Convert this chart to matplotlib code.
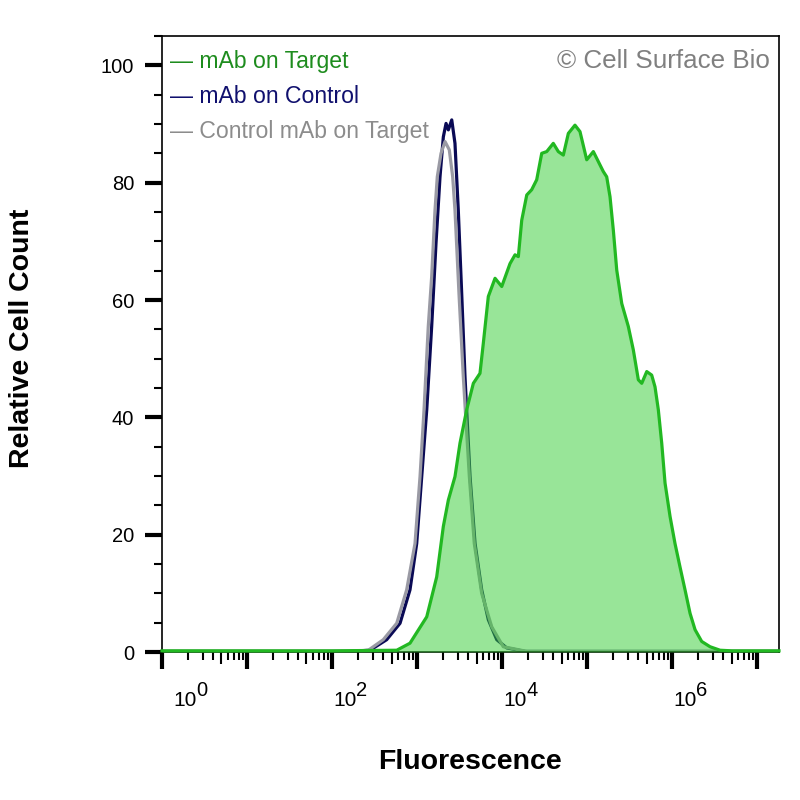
# -*- coding:utf-8 -*-

# flow cytometry histogram overlay
import numpy as np
import matplotlib
matplotlib.use('Agg')
import matplotlib.pyplot as plt
from matplotlib.ticker import FixedLocator, NullFormatter, NullLocator

plt.rcParams['font.family'] = ['Liberation Sans', 'DejaVu Sans']

# log10(fluorescence) and relative cell count
target_log = [0.0, 2.0, 2.76, 2.916, 3.113, 3.23, 3.308, 3.367, 3.445, 3.504,
              3.583, 3.661, 3.739, 3.778, 3.837, 3.916, 3.995, 4.092, 4.151, 4.19,
              4.23, 4.289, 4.347, 4.406, 4.465, 4.524, 4.601, 4.66, 4.719, 4.778,
              4.856, 4.915, 4.994, 5.072, 5.189, 5.229, 5.268, 5.307, 5.347, 5.406,
              5.483, 5.542, 5.601, 5.641, 5.70, 5.758, 5.797, 5.836, 5.876, 5.915,
              5.974, 6.032, 6.091, 6.15, 6.209, 6.268, 6.346, 6.444, 6.562, 6.7,
              7.255]
target_cnt = [0.2, 0.2, 0.3, 1.5, 6.0, 12.8, 21.4, 25.9, 29.9, 35.6,
              41.3, 45.8, 47.5, 52.6, 60.6, 63.7, 62.3, 66.2, 67.7, 67.4,
              73.6, 77.9, 78.8, 80.5, 85.0, 85.3, 86.7, 85.3, 84.7, 88.4,
              89.8, 88.7, 83.9, 85.3, 81.9, 81.0, 77.6, 71.9, 65.1, 59.4,
              55.5, 51.5, 46.4, 45.8, 47.8, 47.2, 45.2, 41.3, 35.6, 28.8,
              23.1, 18.5, 14.5, 10.6, 6.6, 3.8, 1.8, 0.9, 0.3, 0.2,
              0.2]

control_log = [0.0, 2.2, 2.446, 2.642, 2.799, 2.916, 2.995, 3.054, 3.113, 3.171,
               3.222, 3.269, 3.308, 3.34, 3.367, 3.407, 3.445, 3.484, 3.524, 3.563,
               3.622, 3.681, 3.759, 3.837, 3.936, 4.053, 4.269, 7.255]
control_cnt = [0.1, 0.1, 0.3, 2.1, 4.9, 10.6, 18.5, 29.9, 41.3, 55.5,
               69.7, 81.0, 87.8, 90.1, 89.0, 90.7, 86.7, 75.3, 61.1, 46.9,
               29.9, 18.5, 10.6, 5.5, 2.1, 0.7, 0.1, 0.1]

isotype_log = [0.0, 2.2, 2.426, 2.602, 2.76, 2.877, 2.975, 3.034, 3.081, 3.131,
               3.171, 3.21, 3.237, 3.281, 3.328, 3.378, 3.418, 3.445, 3.492, 3.543,
               3.614, 3.672, 3.759, 3.877, 4.013, 4.292, 7.255]
isotype_cnt = [0.1, 0.1, 0.3, 2.1, 4.9, 10.6, 18.5, 29.9, 41.3, 55.5,
               64.0, 75.3, 81.0, 85.0, 87.0, 85.6, 81.0, 75.3, 61.1, 46.9,
               29.9, 18.5, 10.0, 4.3, 0.9, 0.1, 0.1]

legend_labels = ['mAb on Target', 'mAb on Control', 'Control mAb on Target']
legend_colors = ['#1e8c1e', '#10106e', '#8c8c8c']
decade_labels = [0, 2, 4, 6]

fig = plt.figure(figsize=(8, 8), dpi=100)
ax = fig.add_axes([0.2025, 0.185, 0.77125, 0.77])

x_t = 10 ** np.array(target_log)
x_c = 10 ** np.array(control_log)
x_i = 10 ** np.array(isotype_log)

ax.plot(x_c, control_cnt, color='#0a0a55', lw=2.3, zorder=2)
ax.plot(x_i, isotype_cnt, color='#9a9aa4', lw=2.3, zorder=2.1)
ax.fill_between(x_t, 0, target_cnt, color='#32cd32', alpha=0.5, lw=0, zorder=3)
ax.plot(x_t, target_cnt, color='#22b822', lw=2.3, zorder=4, clip_on=False)

ax.set_xscale('log')
ax.set_xlim(1, 10 ** 7.255)
ax.set_ylim(0, 105)

# y ticks
ax.set_yticks([0, 20, 40, 60, 80, 100])
ax.yaxis.set_minor_locator(FixedLocator([5, 10, 15, 25, 30, 35, 45, 50, 55,
                                         65, 70, 75, 85, 90, 95, 105]))
ax.tick_params(axis='y', which='major', length=12, width=3, pad=8, labelsize=14.5)
ax.tick_params(axis='y', which='minor', length=5.5, width=1.5)

# x ticks: decades, minor 2-9, the 5s a bit longer
ax.xaxis.set_major_locator(FixedLocator([10.0 ** k for k in range(8)]))
ax.xaxis.set_major_formatter(NullFormatter())
minors = [m * 10.0 ** k for k in range(7) for m in (2, 3, 4, 6, 7, 8, 9)]
ax.xaxis.set_minor_locator(FixedLocator(minors))
ax.xaxis.set_minor_formatter(NullFormatter())
ax.tick_params(axis='x', which='major', length=12, width=3)
ax.tick_params(axis='x', which='minor', length=5.5, width=1.5)

sec = ax.secondary_xaxis('bottom')
sec.set_xticks([5 * 10.0 ** k for k in range(7)])
sec.xaxis.set_minor_locator(NullLocator())
sec.tick_params(length=8.5, width=1.5, labelbottom=False)
sec.spines['bottom'].set_visible(False)

for s in ax.spines.values():
    s.set_linewidth(1.2)

# decade labels, left-aligned at the tick like the cytometry software does
xtr = ax.get_xaxis_transform()
for k in decade_labels:
    dx = 11 if k == 0 else 1
    ax.annotate('10', xy=(10.0 ** k, 0), xycoords=xtr,
                xytext=(dx, -54), textcoords='offset pixels',
                ha='left', va='baseline', fontsize=15)
    ax.annotate(str(k), xy=(10.0 ** k, 0), xycoords=xtr,
                xytext=(dx + 23, -44.5), textcoords='offset pixels',
                ha='left', va='baseline', fontsize=14.5)

# legend as coloured text lines
for i, (lab, col) in enumerate(zip(legend_labels, legend_colors)):
    ax.text(0.013, 0.958 - i * 0.0568, '\u2014 ' + lab, color=col,
            fontsize=16.6, ha='left', va='center', transform=ax.transAxes)

ax.text(0.985, 0.96, '\u00a9 Cell Surface Bio', color='#808080', fontsize=18.7,
        ha='right', va='center', transform=ax.transAxes)

ax.set_xlabel('Fluorescence', fontsize=20.5, fontweight='bold', va='center')
ax.xaxis.set_label_coords(0.5, -0.179)
ax.set_ylabel('Relative Cell Count', fontsize=20.5, fontweight='bold', va='center')
ax.yaxis.set_label_coords(-0.227, 0.51)

fig.savefig('out.png', dpi=100)
